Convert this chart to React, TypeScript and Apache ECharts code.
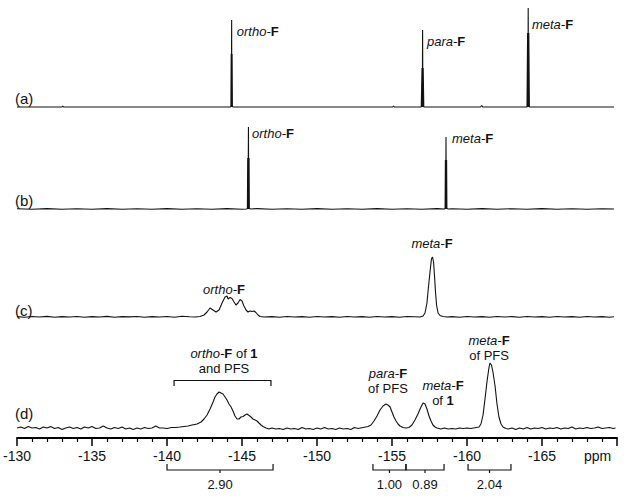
import React, { useEffect, useRef } from "react";
import * as echarts from "echarts";

const FONT = "'Liberation Sans', Arial, sans-serif";
const X_MIN = -170;
const X_MAX = -130;

// Trace (a): [ppm, height]
const traceA: [number, number][] = [
  [-130, 0], [-133.0, 0], [-133.05, 1], [-133.1, 0],
  [-144.2, 0], [-144.26, 0.5], [-144.28, 53], [-144.29, 0], [-144.31, 87], [-144.32, 0], [-144.34, 53], [-144.36, 0.5], [-144.42, 0],
  [-155.05, 0], [-155.1, 1], [-155.15, 0],
  [-156.95, 0], [-157.0, 39], [-157.02, 0], [-157.04, 77], [-157.06, 0], [-157.08, 39], [-157.12, 0],
  [-160.9, 0], [-160.98, 1.5], [-161.05, 0],
  [-164.0, 0], [-164.04, 74], [-164.06, 0], [-164.08, 99], [-164.1, 0], [-164.12, 74], [-164.16, 0],
  [-169.8, 0],
];

// Trace (b)
const traceB: [number, number][] = [
  [-130, 0.3], [-131, -0.3], [-132, 0.4], [-133, -0.2], [-134, 0.3], [-135, -0.3], [-136, 0.4], [-137, -0.2], [-138, 0.3], [-139, -0.3],
  [-140, 0.4], [-141, -0.2], [-142, 0.3], [-143, -0.3], [-144, 0.4], [-145, -0.2], [-145.3, 0],
  [-145.36, 0.5], [-145.38, 51], [-145.4, 0], [-145.43, 82], [-145.45, 0], [-145.47, 51], [-145.49, 0.5], [-145.6, 0],
  [-146, 0.4], [-147, -0.3], [-148, 0.3], [-149, -0.2], [-150, 0.4], [-151, -0.3], [-152, 0.3], [-153, -0.2], [-154, 0.4], [-155, -0.3],
  [-156, 0.3], [-157, -0.2], [-158, 0.4], [-158.5, 0],
  [-158.54, 0.5], [-158.56, 49], [-158.58, 0], [-158.6, 72], [-158.62, 0], [-158.64, 49], [-158.66, 0.5], [-158.75, 0],
  [-159, 0.3], [-160, -0.3], [-161, 0.4], [-162, -0.2], [-163, 0.3], [-164, -0.3], [-165, 0.4], [-166, -0.2], [-167, 0.3], [-168, -0.3], [-169, 0.3], [-169.8, 0],
];

// Trace (c)
const traceC: [number, number][] = [
  [-130, 0.4], [-130.5, -0.3], [-131, 0.5], [-131.5, 0], [-132, 0.6], [-132.5, -0.2], [-133, 0.4], [-133.5, 0], [-134, 0.5], [-134.5, -0.3],
  [-135, 0.4], [-135.5, 0], [-136, 0.6], [-136.5, -0.2], [-137, 0.4], [-137.5, 0.1], [-138, 0.5], [-138.5, -0.3], [-139, 0.4], [-139.5, 0],
  [-140, 0.5], [-140.5, -0.2], [-141, 0.8], [-141.5, 0.2], [-141.87, 0],
  [-142.2, 0.5], [-142.47, 2], [-142.67, 5], [-142.87, 9], [-143.07, 7], [-143.27, 5], [-143.47, 7], [-143.67, 14], [-143.87, 20],
  [-144.0, 21], [-144.07, 18], [-144.2, 19.5], [-144.33, 18.5], [-144.47, 15], [-144.6, 12], [-144.73, 14], [-144.87, 17.5],
  [-145.0, 16], [-145.13, 11], [-145.27, 7], [-145.4, 5], [-145.53, 6], [-145.67, 5.5], [-145.8, 6], [-145.93, 4.5], [-146.07, 2],
  [-146.2, 0.5], [-146.47, 0],
  [-147, 0.4], [-147.5, -0.2], [-148, 0.5], [-148.5, 0], [-149, 0.4], [-149.5, -0.3], [-150, 0.5], [-150.5, 0], [-151, 0.4], [-151.5, -0.2],
  [-152, 0.5], [-152.5, 0], [-153, 0.4], [-153.5, -0.3], [-154, 0.5], [-154.5, 0], [-155, 0.4], [-155.5, -0.2], [-156, 0.5], [-156.5, 0.2],
  [-156.87, 0], [-157.07, 1], [-157.2, 4], [-157.33, 14], [-157.43, 30], [-157.5, 40], [-157.57, 50], [-157.63, 58], [-157.7, 60],
  [-157.77, 55], [-157.83, 42], [-157.9, 25], [-157.97, 12], [-158.07, 4], [-158.2, 1.5], [-158.4, 0.5], [-158.67, 0],
  [-159, 0.4], [-159.5, -0.2], [-160, 0.5], [-160.5, 0], [-161, 0.4], [-161.5, -0.3], [-162, 0.5], [-162.5, 0], [-163, 0.4], [-163.5, -0.2],
  [-164, 0.5], [-164.5, 0], [-165, 0.4], [-165.5, -0.3], [-166, 0.5], [-166.5, 0], [-167, 0.4], [-167.5, -0.2], [-168, 0.5], [-168.5, 0],
  [-169, 0.4], [-169.5, -0.2], [-169.8, 0.3],
];

// Trace (d)
const traceD: [number, number][] = [
  [-130, 1], [-130.25, 2], [-130.5, 0.5], [-130.75, 2.5], [-131, 1], [-131.25, 1.5], [-131.5, 0], [-131.75, 2], [-132, 1], [-132.25, 2.5],
  [-132.5, 0.5], [-132.75, 1.5], [-133, -0.5], [-133.25, 1], [-133.5, 2], [-133.75, 0.5], [-134, 1.5], [-134.25, 0], [-134.5, 2], [-134.75, 1],
  [-135, 2.5], [-135.25, 0.5], [-135.5, 1], [-135.75, 3], [-136, 1], [-136.25, 0], [-136.5, 1.5], [-136.75, 0.5], [-137, 2], [-137.25, 0],
  [-137.5, 1], [-137.75, -0.5], [-138, 1], [-138.25, 0], [-138.5, 1.5], [-138.75, 0.5], [-139, 1], [-139.25, 3], [-139.5, 1], [-139.75, 1],
  [-140.0, 0.5], [-140.3, 1.5], [-140.6, 1.5], [-140.87, 2], [-141.13, 2.5], [-141.4, 3], [-141.67, 4], [-142.0, 5], [-142.27, 7], [-142.47, 10],
  [-142.67, 14], [-142.87, 20], [-143.07, 27], [-143.2, 32], [-143.33, 35], [-143.47, 37], [-143.6, 36], [-143.73, 35], [-143.87, 32],
  [-144.0, 29], [-144.13, 25], [-144.27, 22], [-144.4, 18], [-144.53, 13], [-144.67, 10], [-144.8, 10], [-144.93, 12], [-145.07, 12.5],
  [-145.2, 14], [-145.33, 15], [-145.47, 13.5], [-145.6, 12], [-145.73, 10], [-145.87, 9], [-146.0, 8], [-146.13, 6], [-146.27, 4],
  [-146.4, 2.5], [-146.6, 1], [-146.8, 0],
  [-147, 1], [-147.25, 0], [-147.5, 0.5], [-147.75, -0.5], [-148, 1], [-148.25, 0], [-148.5, 0.5], [-148.75, -0.5], [-149, 1.5], [-149.25, 0],
  [-149.5, 0.5], [-149.75, -0.5], [-150, 1], [-150.25, 0], [-150.5, 1.5], [-150.75, 0], [-151, 0.5], [-151.25, -0.5], [-151.5, 1], [-151.75, 0],
  [-152, 0.5], [-152.25, -0.5], [-152.5, 1.5], [-152.75, 0.5],
  [-153.4, 2.5], [-153.6, 4], [-153.8, 8], [-154.0, 13], [-154.2, 19], [-154.4, 23], [-154.6, 25], [-154.73, 24], [-154.87, 22], [-155.0, 17],
  [-155.13, 12], [-155.27, 8], [-155.4, 5], [-155.53, 3], [-155.73, 1.5], [-155.93, 1], [-156.13, 1.5], [-156.33, 4], [-156.53, 9],
  [-156.73, 15], [-156.93, 22], [-157.07, 26], [-157.2, 25], [-157.33, 20], [-157.47, 13], [-157.6, 8], [-157.73, 4], [-157.87, 2], [-158.0, 1],
  [-158.25, 0], [-158.5, 1], [-158.75, 0], [-159, 0.5], [-159.25, 0], [-159.5, 1], [-159.75, 0.5], [-160, 1], [-160.25, 0.5],
  [-160.8, 2], [-160.93, 5], [-161.07, 14], [-161.2, 30], [-161.33, 47], [-161.47, 62], [-161.53, 66], [-161.63, 64], [-161.73, 57],
  [-161.87, 43], [-162.0, 25], [-162.13, 12], [-162.27, 5], [-162.4, 2], [-162.6, 0.5],
  [-162.75, 0], [-163, 1], [-163.25, -0.5], [-163.5, 1], [-163.75, 0], [-164, 1.5], [-164.25, 0], [-164.5, 1], [-164.75, 0.5], [-165, 1.5],
  [-165.25, 0], [-165.5, 1], [-165.75, 0.5], [-166, 1.5], [-166.25, 0], [-166.5, 1], [-166.75, 0.5], [-167, 2], [-167.25, 0], [-167.5, 1],
  [-167.75, 0.5], [-168, 1.5], [-168.25, 0.5], [-168.5, 1], [-168.75, 2], [-169, 0.5], [-169.25, 1], [-169.5, 1.5], [-169.75, 0.5], [-169.9, 1],
];

const panelNames = ["(a)", "(b)", "(c)", "(d)"];

// Integrations
const integralFrom = [-140, -153.73, -155.93, -160.07];
const integralTo = [-147.07, -155.93, -158.47, -162.93];
const integralValues = ["2.90", "1.00", "0.89", "2.04"];

// Layout (pixels)
const GRIDS = [
  { top: 0, height: 110, min: -3, max: 107 },
  { top: 110, height: 110, min: -11, max: 99 },
  { top: 220, height: 105, min: -8, max: 97 },
  { top: 330, height: 108, min: -9, max: 99 },
];
const panelLabelY = [98, 200, 310, 413];

type Lbl = { ppm: number; y: number; text: string; align: "left" | "center" };
const peakLabels: Lbl[] = [
  { ppm: -144.65, y: 31, text: "{i|ortho-}{b|F}", align: "left" },
  { ppm: -157.33, y: 41, text: "{i|para-}{b|F}", align: "left" },
  { ppm: -164.33, y: 24, text: "{i|meta-}{b|F}", align: "left" },
  { ppm: -145.67, y: 133, text: "{i|ortho-}{b|F}", align: "left" },
  { ppm: -159.0, y: 138, text: "{i|meta-}{b|F}", align: "left" },
  { ppm: -143.8, y: 289, text: "{i|ortho-}{b|F}", align: "center" },
  { ppm: -157.67, y: 243, text: "{i|meta-}{b|F}", align: "center" },
  { ppm: -143.8, y: 353, text: "{i|ortho-}{b|F}{n| of }{b|1}", align: "center" },
  { ppm: -143.8, y: 368, text: "{n|and PFS}", align: "center" },
  { ppm: -154.73, y: 373, text: "{i|para-}{b|F}", align: "center" },
  { ppm: -154.73, y: 388, text: "{n|of PFS}", align: "center" },
  { ppm: -158.4, y: 385, text: "{i|meta-}{b|F}", align: "center" },
  { ppm: -158.4, y: 400, text: "{n|of }{b|1}", align: "center" },
  { ppm: -161.47, y: 340, text: "{i|meta-}{b|F}", align: "center" },
  { ppm: -161.47, y: 355, text: "{n|of PFS}", align: "center" },
];

const rich = {
  i: { fontStyle: "italic", fontSize: 13, fontFamily: FONT, fill: "#111" },
  b: { fontWeight: "bold", fontSize: 13, fontFamily: FONT, fill: "#111" },
  n: { fontSize: 13, fontFamily: FONT, fill: "#111" },
};

export default function App() {
  const ref = useRef<HTMLDivElement>(null);
  useEffect(() => {
    if (!ref.current) return;
    const chart = echarts.init(ref.current, undefined, { renderer: "svg" });
    const traces = [traceA, traceB, traceC, traceD];
    chart.setOption({
      animation: false,
      backgroundColor: "#ffffff",
      grid: GRIDS.map((g) => ({ left: 17, right: 7, top: g.top, height: g.height })),
      xAxis: GRIDS.map((_, i) => ({
        type: "value",
        gridIndex: i,
        min: X_MIN,
        max: X_MAX,
        inverse: true,
        interval: 5,
        show: i === 3,
        axisLine: { show: true, onZero: false, lineStyle: { color: "#000", width: 2 } },
        axisTick: { show: true, length: 8, lineStyle: { color: "#000", width: 1.5 } },
        minorTick: { show: true, splitNumber: 5, length: 4, lineStyle: { color: "#000", width: 1.2 } },
        splitLine: { show: false },
        minorSplitLine: { show: false },
        axisLabel: {
          fontSize: 14,
          fontFamily: FONT,
          color: "#111",
          margin: 11,
          formatter: (v: number) => (v === X_MIN ? "" : String(v)),
        },
      })),
      yAxis: GRIDS.map((g, i) => ({
        type: "value",
        gridIndex: i,
        min: g.min,
        max: g.max,
        show: false,
        splitLine: { show: false },
      })),
      series: traces.map((d, i) => ({
        type: "line",
        xAxisIndex: i,
        yAxisIndex: i,
        data: d,
        symbol: "none",
        silent: true,
        lineStyle: { color: "#111", width: 1.1 },
      })),
    });

    const px = (ppm: number) => chart.convertToPixel({ xAxisIndex: 3 }, ppm) as number;
    const graphic: any[] = [];
    panelNames.forEach((name, i) => {
      graphic.push({
        type: "text",
        style: { text: name, x: 15, y: panelLabelY[i], fontSize: 15, fontFamily: FONT, fill: "#111", verticalAlign: "middle" },
      });
    });
    peakLabels.forEach((l) => {
      graphic.push({
        type: "text",
        style: { text: l.text, rich, x: px(l.ppm), y: l.y, align: l.align, verticalAlign: "middle", fontSize: 13, fontFamily: FONT },
      });
    });
    // bracket above ortho region in (d)
    const bx1 = px(-140.47), bx2 = px(-146.93);
    graphic.push({
      type: "polyline",
      shape: { points: [[bx1, 386], [bx1, 380.5], [bx2, 380.5], [bx2, 386]] },
      style: { stroke: "#111", lineWidth: 1.2, fill: null },
    });
    // integrals
    integralFrom.forEach((f, i) => {
      const x1 = px(f), x2 = px(integralTo[i]);
      const xm = (x1 + x2) / 2;
      const y = 470;
      graphic.push({
        type: "polyline",
        shape: { points: [[x1, y - 6], [x1, y], [x2, y], [x2, y - 6]] },
        style: { stroke: "#111", lineWidth: 1.2, fill: null },
      });
      graphic.push({
        type: "line",
        shape: { x1: xm, y1: y, x2: xm, y2: y + 3 },
        style: { stroke: "#111", lineWidth: 1.2 },
      });
      graphic.push({
        type: "text",
        style: { text: integralValues[i], x: xm, y: 484, align: "center", verticalAlign: "middle", fontSize: 13, fontFamily: FONT, fill: "#111" },
      });
    });
    graphic.push({
      type: "text",
      style: { text: "ppm", x: px(-168.7), y: 456, align: "center", verticalAlign: "middle", fontSize: 14, fontFamily: FONT, fill: "#111" },
    });
    chart.setOption({ graphic });
    return () => chart.dispose();
  }, []);
  return <div ref={ref} style={{ width: 624, height: 499, position: "absolute", left: 0, top: 0 }} />;
}
